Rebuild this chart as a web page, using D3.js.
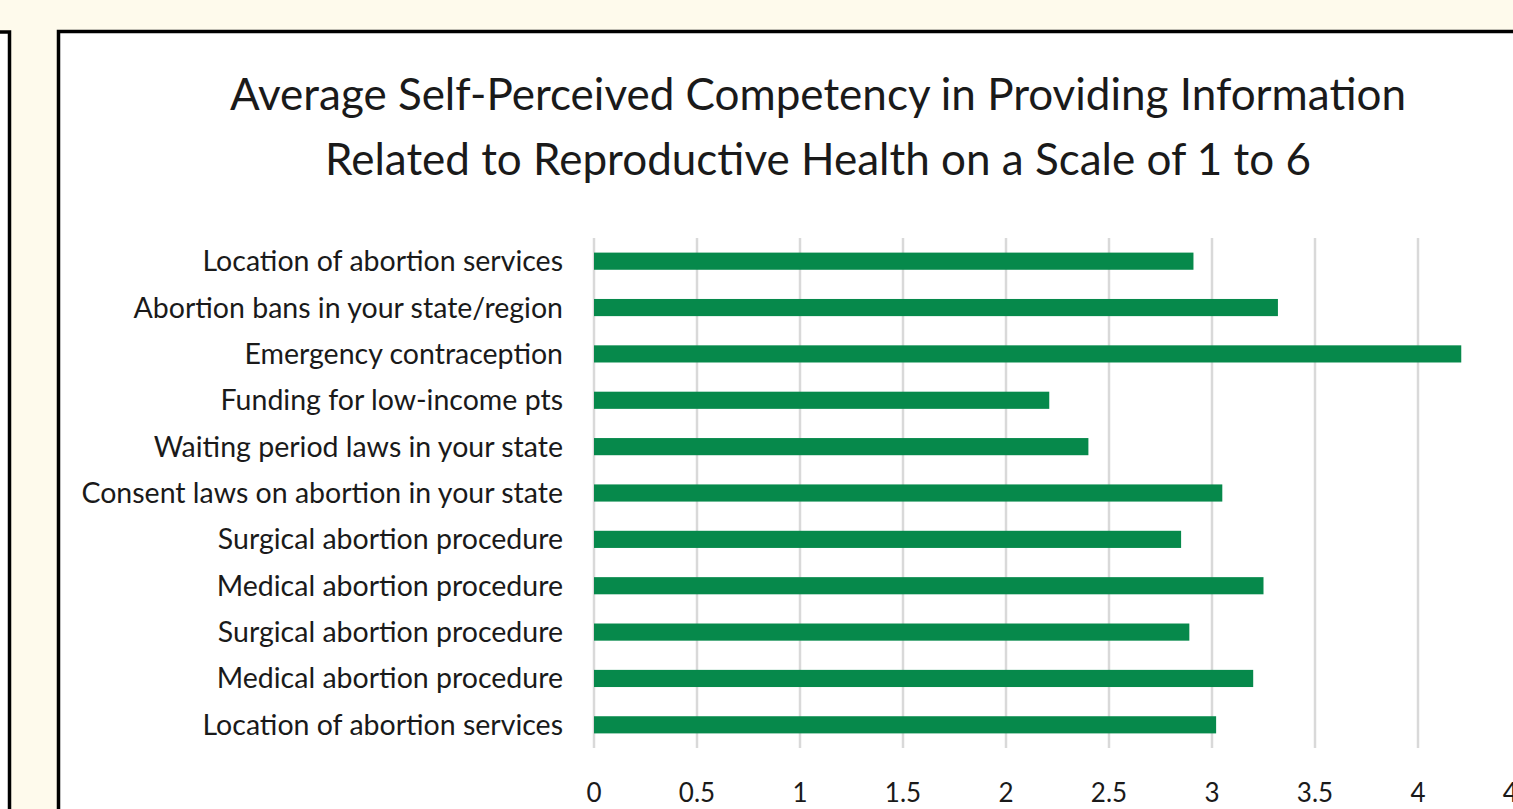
<!DOCTYPE html>
<html><head><meta charset="utf-8">
<script src="https://cdn.jsdelivr.net/npm/d3@7"></script>
<style>
html,body{margin:0;padding:0;overflow:hidden;background:#fefaec;}
svg{display:block;}
</style></head>
<body>
<script>
const categories = [
  "Location of abortion services",
  "Abortion bans in your state/region",
  "Emergency contraception",
  "Funding for low-income pts",
  "Waiting period laws in your state",
  "Consent laws on abortion in your state",
  "Surgical abortion procedure",
  "Medical abortion procedure",
  "Surgical abortion procedure",
  "Medical abortion procedure",
  "Location of abortion services"
];
const values = [2.91, 3.32, 4.21, 2.21, 2.40, 3.05, 2.85, 3.25, 2.89, 3.20, 3.02];
const tickValues = [0, 0.5, 1, 1.5, 2, 2.5, 3, 3.5, 4, 4.5];
const titleLines = [
  "Average Self-Perceived Competency in Providing Information",
  "Related to Reproductive Health on a Scale of 1 to 6"
];

const W = 1513, H = 809;
const svg = d3.select("body").append("svg").attr("width", W).attr("height", H);
const font = "Lato, 'Open Sans', sans-serif";

// background
svg.append("rect").attr("width", W).attr("height", H).attr("fill", "#fefaec");
// left panel
svg.append("rect").attr("x", -20).attr("y", 32).attr("width", 29.5).attr("height", H)
  .attr("fill", "#ffffff").attr("stroke", "#000").attr("stroke-width", 3.5);
// main panel
svg.append("rect").attr("x", 58.5).attr("y", 31.5).attr("width", 1500).attr("height", 900)
  .attr("fill", "#ffffff").attr("stroke", "#000").attr("stroke-width", 3.5);

// title
svg.append("g").selectAll("text").data(titleLines).join("text")
  .attr("x", 818).attr("y", (d, i) => 110 + i * 65)
  .attr("text-anchor", "middle")
  .attr("font-family", font).attr("font-size", 44).attr("fill", "#1a1a1a")
  .text(d => d);

const x = d3.scaleLinear().domain([0, 4.5]).range([594, 594 + 4.5 * 206]);
const y = d3.scaleBand().domain(d3.range(categories.length)).range([238, 748]).paddingInner(0.63).paddingOuter(0.315);

// gridlines
svg.append("g").selectAll("line").data(tickValues).join("line")
  .attr("x1", d => x(d)).attr("x2", d => x(d))
  .attr("y1", 238).attr("y2", 748)
  .attr("stroke", "#d9d9d9").attr("stroke-width", 2.5);

// bars
svg.append("g").selectAll("rect").data(values).join("rect")
  .attr("x", x(0)).attr("y", (d, i) => y(i))
  .attr("width", d => x(d) - x(0)).attr("height", y.bandwidth())
  .attr("fill", "#06894b");

// category labels
svg.append("g").selectAll("text").data(categories).join("text")
  .attr("x", 563).attr("y", (d, i) => y(i) + y.bandwidth() / 2)
  .attr("dy", "0.35em").attr("text-anchor", "end")
  .attr("font-family", font).attr("font-size", 28.5).attr("fill", "#1a1a1a")
  .text(d => d);

// tick labels
svg.append("g").selectAll("text").data(tickValues).join("text")
  .attr("x", d => x(d)).attr("y", 802)
  .attr("text-anchor", "middle")
  .attr("font-family", font).attr("font-size", 26).attr("fill", "#1a1a1a")
  .text(d => d3.format("")(d));
</script>
</body></html>
